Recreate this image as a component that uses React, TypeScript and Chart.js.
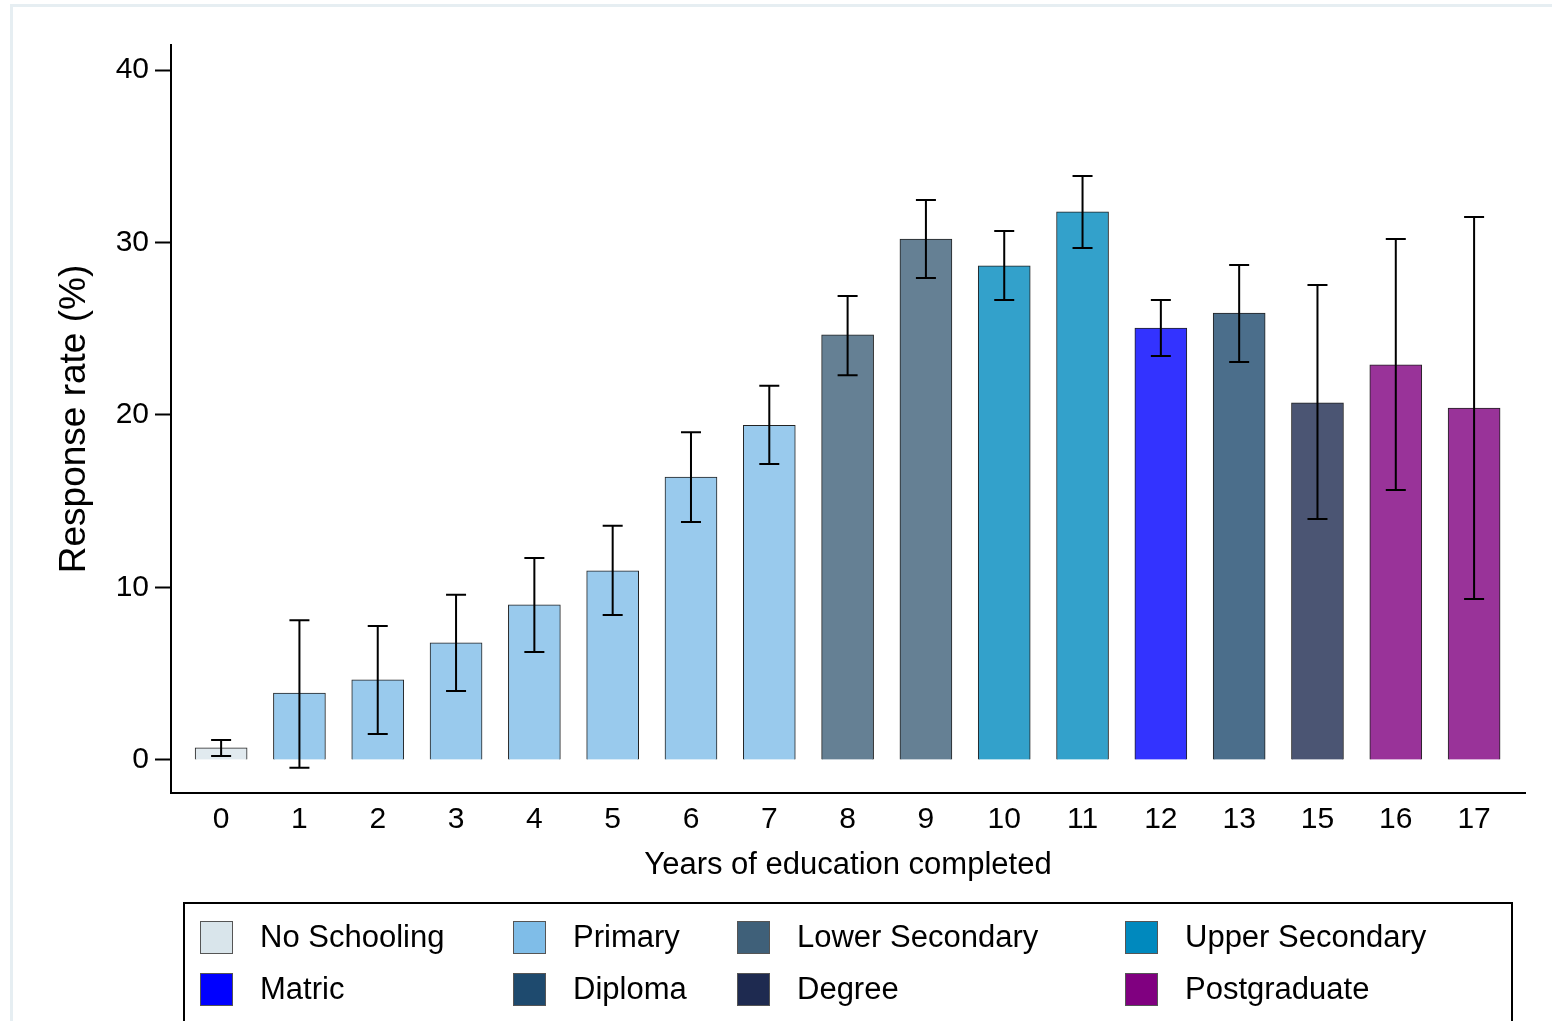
import React, { useEffect, useRef } from 'react';
import { Chart, registerables } from 'chart.js';

Chart.register(...registerables);

const categories = ['0', '1', '2', '3', '4', '5', '6', '7', '8', '9', '10', '11', '12', '13', '15', '16', '17'];
const responseRate = [0.7, 3.88, 4.64, 6.78, 8.99, 10.96, 16.4, 19.4, 24.64, 30.2, 28.64, 31.77, 25.04, 25.9, 20.7, 22.9, 20.4];
const ciLower = [0.23, -0.46, 1.5, 4.0, 6.26, 8.4, 13.8, 17.16, 22.3, 27.94, 26.67, 29.68, 23.42, 23.07, 13.97, 15.65, 9.33];
const ciUpper = [1.16, 8.1, 7.77, 9.57, 11.7, 13.57, 19.0, 21.7, 26.9, 32.46, 30.67, 33.86, 26.67, 28.7, 27.54, 30.2, 31.48];
const barGroup = [0, 1, 1, 1, 1, 1, 1, 1, 2, 2, 3, 3, 4, 5, 6, 7, 7];
const groupLabels = ['No Schooling', 'Primary', 'Lower Secondary', 'Upper Secondary', 'Matric', 'Diploma', 'Degree', 'Postgraduate'];
const groupColors = ['#D9E5EB', '#7FBDE8', '#3F6079', '#0089BE', '#0000FF', '#1E4A6E', '#1E2A50', '#800080'];
const yTicks = [0, 10, 20, 30, 40];

const FONT = '"Liberation Sans", Arial, sans-serif';

function fade(hex: string, a: number): string {
  const r = parseInt(hex.slice(1, 3), 16);
  const g = parseInt(hex.slice(3, 5), 16);
  const b = parseInt(hex.slice(5, 7), 16);
  const m = (c: number) => Math.round(c * a + 255 * (1 - a));
  return `rgb(${m(r)},${m(g)},${m(b)})`;
}

const framePlugin = {
  id: 'frame',
  beforeDraw(chart: any) {
    const ctx = chart.ctx;
    ctx.save();
    ctx.fillStyle = '#ffffff';
    ctx.fillRect(0, 0, chart.width, chart.height);
    ctx.strokeStyle = '#E6EEF2';
    ctx.lineWidth = 3;
    ctx.strokeRect(11.5, 5.5, chart.width + 20, chart.height + 20);
    ctx.restore();
  },
};

const errorBarPlugin = {
  id: 'errorBars',
  afterDatasetsDraw(chart: any) {
    const ctx = chart.ctx;
    const xs = chart.scales.x;
    const ys = chart.scales.y;
    ctx.save();
    ctx.strokeStyle = '#000000';
    ctx.lineWidth = 2;
    ciLower.forEach((lo, i) => {
      const x = xs.getPixelForValue(i);
      const yl = ys.getPixelForValue(lo);
      const yh = ys.getPixelForValue(ciUpper[i]);
      ctx.beginPath();
      ctx.moveTo(x, yl);
      ctx.lineTo(x, yh);
      ctx.moveTo(x - 10, yl);
      ctx.lineTo(x + 10, yl);
      ctx.moveTo(x - 10, yh);
      ctx.lineTo(x + 10, yh);
      ctx.stroke();
    });
    ctx.restore();
  },
};

const legendPlugin = {
  id: 'customLegend',
  afterDraw(chart: any) {
    const ctx = chart.ctx;
    ctx.save();
    ctx.strokeStyle = '#000000';
    ctx.lineWidth = 2;
    ctx.strokeRect(184, 903, 1328, 140);
    const colX = [200, 513, 737, 1125];
    const rowY = [937, 989];
    ctx.font = `31px ${FONT}`;
    ctx.textBaseline = 'middle';
    ctx.textAlign = 'left';
    groupLabels.forEach((label, i) => {
      const cx = colX[i % 4];
      const cy = rowY[Math.floor(i / 4)];
      ctx.fillStyle = groupColors[i];
      ctx.fillRect(cx, cy - 16, 33, 33);
      ctx.lineWidth = 1;
      ctx.strokeStyle = '#555555';
      ctx.strokeRect(cx + 0.5, cy - 15.5, 32, 32);
      ctx.fillStyle = '#000000';
      ctx.fillText(label, cx + 60, cy + 1);
    });
    ctx.restore();
  },
};

export default function App() {
  const ref = useRef<HTMLCanvasElement | null>(null);

  useEffect(() => {
    document.body.style.margin = '0';
    const canvas = ref.current;
    if (!canvas) return;
    const chart = new Chart(canvas, {
      type: 'bar',
      data: {
        datasets: [
          {
            label: 'Response rate',
            data: responseRate.map((v, i) => ({ x: i, y: v })),
            backgroundColor: barGroup.map((g) => fade(groupColors[g], 0.8)),
            borderColor: '#222222',
            borderWidth: 1,
            barThickness: 52,
          } as any,
        ],
      },
      options: {
        animation: false,
        responsive: false,
        maintainAspectRatio: false,
        layout: { padding: { left: 0, top: 45, right: 27, bottom: 128 } },
        plugins: { legend: { display: false }, tooltip: { enabled: false } },
        scales: {
          x: {
            type: 'linear',
            offset: false,
            min: -0.64,
            max: 16.65,
            afterBuildTicks: (s: any) => {
              s.ticks = categories.map((_, i) => ({ value: i }));
            },
            afterFit: (s: any) => {
              s.height = 100;
            },
            grid: { display: false, drawTicks: false, offset: false },
            border: { display: true, color: '#000000', width: 2 },
            ticks: {
              autoSkip: false,
              maxRotation: 0,
              padding: 9,
              color: '#000000',
              font: { size: 30, family: FONT },
              callback: (v: any) => categories[v] ?? '',
            },
            title: {
              display: true,
              text: 'Years of education completed',
              color: '#000000',
              font: { size: 31, family: FONT },
              padding: { top: 0, bottom: 9 },
            },
          },
          y: {
            min: -1.92,
            max: 41.45,
            afterBuildTicks: (s: any) => {
              s.ticks = yTicks.map((v) => ({ value: v }));
            },
            afterFit: (s: any) => {
              s.width = 171;
            },
            grid: {
              drawOnChartArea: false,
              drawTicks: true,
              tickLength: 16,
              tickColor: '#000000',
              tickWidth: 2,
            },
            border: { display: true, color: '#000000', width: 2 },
            ticks: {
              padding: 6,
              color: '#000000',
              font: { size: 30, family: FONT },
            },
            title: {
              display: true,
              text: 'Response rate (%)',
              color: '#000000',
              font: { size: 37, family: FONT },
              padding: { top: 53, bottom: 0 },
            },
          },
        },
      } as any,
      plugins: [framePlugin, errorBarPlugin, legendPlugin],
    });
    return () => chart.destroy();
  }, []);

  return <canvas ref={ref} width={1552} height={1021} style={{ display: 'block' }} />;
}
